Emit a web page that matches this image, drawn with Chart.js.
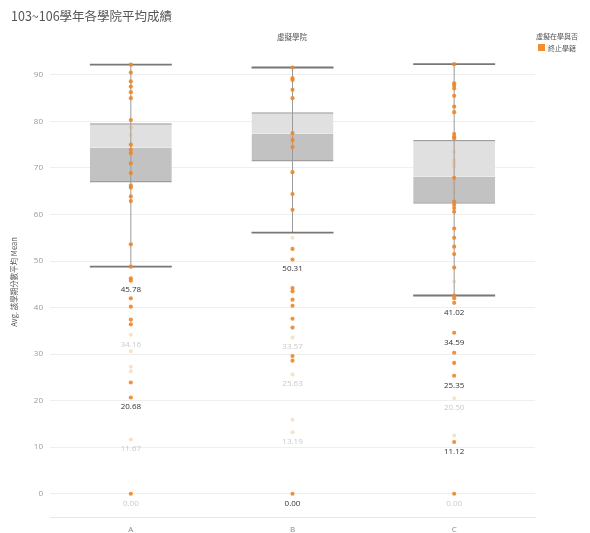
<!DOCTYPE html>
<html>
<head>
<meta charset="utf-8">
<script src="https://cdn.jsdelivr.net/npm/chart.js@4.4.1/dist/chart.umd.min.js"></script>
<style>
  html, body { margin: 0; padding: 0; background: #fff; }
  #wrap { position: relative; width: 590px; height: 533px; overflow: hidden; font-family: "Noto Sans CJK TC", "Open Sans", sans-serif; }
  #title { position: absolute; left: 11px; top: 6px; font-size: 12.5px; color: #555; white-space: nowrap; }
  #header { position: absolute; left: 292px; top: 31px; transform: translateX(-50%); font-size: 7.5px; color: #555; white-space: nowrap; }
  #legTitle { position: absolute; left: 536px; top: 31px; font-size: 7px; color: #555; white-space: nowrap; }
  #legSwatch { position: absolute; left: 538px; top: 44px; width: 7px; height: 7px; background: #f28e2b; }
  #legText { position: absolute; left: 548px; top: 42.5px; font-size: 7px; color: #555; white-space: nowrap; }
  canvas { position: absolute; left: 0; top: 0; }
</style>
</head>
<body>
<div id="wrap">
  <canvas id="c" width="590" height="533"></canvas>
  <div id="title">103~106學年各學院平均成績</div>
  <div id="header">虛擬學院</div>
  <div id="legTitle">虛擬在學與否</div>
  <div id="legSwatch"></div>
  <div id="legText">終止學籍</div>
</div>
<script>
// ---- data ----
const categories = ['A', 'B', 'C'];
const yTicks = [0, 10, 20, 30, 40, 50, 60, 70, 80, 90];

const q1 = [66.9, 71.4, 62.3];
const median = [74.4, 77.4, 68.1];
const q3 = [79.6, 82.0, 76.0];
const whiskerLow = [48.8, 56.1, 42.6];
const whiskerHigh = [92.2, 91.6, 92.3];

const pointsA = [92.2, 90.5, 88.6, 87.5, 86.3, 85.0, 80.3, 75.0, 73.9, 73.2, 71.0, 68.9, 66.2, 65.8, 63.9, 62.9, 53.6, 48.8, 46.3, 45.78, 42.0, 40.2, 37.4, 36.4, 23.9, 20.68, 0];
const fadedA = [78.7, 77.1, 34.16, 30.6, 27.3, 26.3, 11.67];
const pointsB = [91.6, 89.3, 88.9, 86.8, 85.0, 77.5, 76.0, 74.5, 69.1, 64.4, 61.0, 52.6, 50.31, 44.2, 43.5, 41.7, 40.4, 37.6, 35.7, 29.6, 28.6, 0];
const fadedB = [76.8, 75.3, 55.0, 33.57, 25.63, 15.9, 13.19];
const pointsC = [92.3, 88.2, 87.7, 87.1, 85.5, 83.2, 82.0, 77.3, 76.7, 76.4, 67.9, 62.8, 62.1, 61.4, 60.6, 57.0, 55.0, 53.1, 51.5, 48.6, 42.6, 42.0, 41.02, 34.59, 30.3, 28.1, 25.35, 11.12, 0];
const fadedC = [73.5, 71.7, 71.0, 70.3, 66.7, 64.9, 45.6, 20.50, 12.5];

const labelValsA = [45.78, 34.16, 20.68, 11.67, 0.00];
const labelDarkA = [true, false, true, false, false];
const labelValsB = [50.31, 33.57, 25.63, 13.19, 0.00];
const labelDarkB = [true, false, false, false, true];
const labelValsC = [41.02, 34.59, 25.35, 20.50, 11.12, 0.00];
const labelDarkC = [true, true, true, false, true, false];

// ---- build ----
const solidSets = [pointsA, pointsB, pointsC];
const fadedSets = [fadedA, fadedB, fadedC];
const labelSets = [labelValsA, labelValsB, labelValsC];
const darkSets = [labelDarkA, labelDarkB, labelDarkC];

const toPts = sets => sets.flatMap((arr, i) => arr.map(v => ({ x: categories[i], y: v })));

const overlay = {
  id: 'overlay',
  afterDatasetDraw(chart, args) {
    if (args.index !== 1) return;
    const ctx = chart.ctx, x = chart.scales.x, y = chart.scales.y;
    const bars = chart.getDatasetMeta(0).data;
    ctx.save();
    categories.forEach((c, i) => {
      const cx = x.getPixelForValue(i);
      const w = bars[i].width;
      const yl = y.getPixelForValue(whiskerLow[i]);
      const yh = y.getPixelForValue(whiskerHigh[i]);
      ctx.strokeStyle = '#9a9a9a';
      ctx.lineWidth = 1;
      ctx.beginPath(); ctx.moveTo(cx, yl); ctx.lineTo(cx, yh); ctx.stroke();
      ctx.strokeStyle = '#777';
      ctx.lineWidth = 1.8;
      [yl, yh].forEach(py => {
        ctx.beginPath(); ctx.moveTo(cx - w / 2, py); ctx.lineTo(cx + w / 2, py); ctx.stroke();
      });
    });
    ctx.restore();
  },
  afterDatasetsDraw(chart) {
    const ctx = chart.ctx, x = chart.scales.x, y = chart.scales.y;
    ctx.save();
    ctx.font = '8px "Open Sans", sans-serif';
    ctx.textAlign = 'center';
    ctx.textBaseline = 'middle';
    labelSets.forEach((vals, i) => {
      const cx = x.getPixelForValue(i);
      vals.forEach((v, k) => {
        ctx.fillStyle = darkSets[i][k] ? '#333' : '#c9c9c9';
        ctx.fillText(v.toFixed(2), cx, y.getPixelForValue(v) + 9.5);
      });
    });
    ctx.restore();
  }
};

new Chart(document.getElementById('c'), {
  type: 'bar',
  data: {
    labels: categories,
    datasets: [
      {
        type: 'bar', order: 3, grouped: false,
        data: categories.map((c, i) => [median[i], q3[i]]),
        backgroundColor: '#e0e0e0', borderColor: '#9e9e9e',
        borderWidth: { top: 1.5, bottom: 0, left: 0, right: 0 }, borderSkipped: false,
        categoryPercentage: 1, barPercentage: 0.507
      },
      {
        type: 'bar', order: 2, grouped: false,
        data: categories.map((c, i) => [q1[i], median[i]]),
        backgroundColor: '#c2c2c2', borderColor: '#9e9e9e',
        borderWidth: { top: 0, bottom: 1.5, left: 0, right: 0 }, borderSkipped: false,
        categoryPercentage: 1, barPercentage: 0.507
      },
      {
        type: 'line', order: 1, showLine: false,
        data: toPts(fadedSets),
        pointRadius: 2, pointBorderWidth: 0,
        pointBackgroundColor: 'rgba(232,170,105,0.35)'
      },
      {
        type: 'line', order: 0, showLine: false,
        data: toPts(solidSets),
        pointRadius: 2.1, pointBorderWidth: 0,
        pointBackgroundColor: 'rgba(236,134,40,0.9)'
      }
    ]
  },
  options: {
    responsive: false,
    animation: false,
    events: [],
    layout: { padding: { top: 47, right: 55, left: 0, bottom: 0 } },
    plugins: { legend: { display: false }, tooltip: { enabled: false } },
    scales: {
      x: {
        type: 'category', offset: true,
        grid: { display: false, drawTicks: false },
        border: { display: true, color: '#e6e6e6', width: 1 },
        ticks: { color: '#888', font: { size: 8, family: '"Open Sans", sans-serif' }, padding: 8 },
        afterFit: s => { s.height = 16; }
      },
      y: {
        min: -5, max: 96,
        afterBuildTicks: s => { s.ticks = yTicks.map(v => ({ value: v })); },
        grid: { color: '#efefef', drawTicks: false, lineWidth: 1 },
        border: { display: false },
        ticks: { color: '#999', font: { size: 8, family: '"Open Sans", sans-serif' }, padding: 7 },
        title: {
          display: true, text: 'Avg. 該學期分數平均 Mean', color: '#555',
          font: { size: 7.5, family: '"Noto Sans CJK TC", sans-serif' },
          padding: { top: 10, bottom: 0 }
        },
        afterFit: s => { s.width = 50; }
      }
    }
  },
  plugins: [overlay]
});
</script>
</body>
</html>
